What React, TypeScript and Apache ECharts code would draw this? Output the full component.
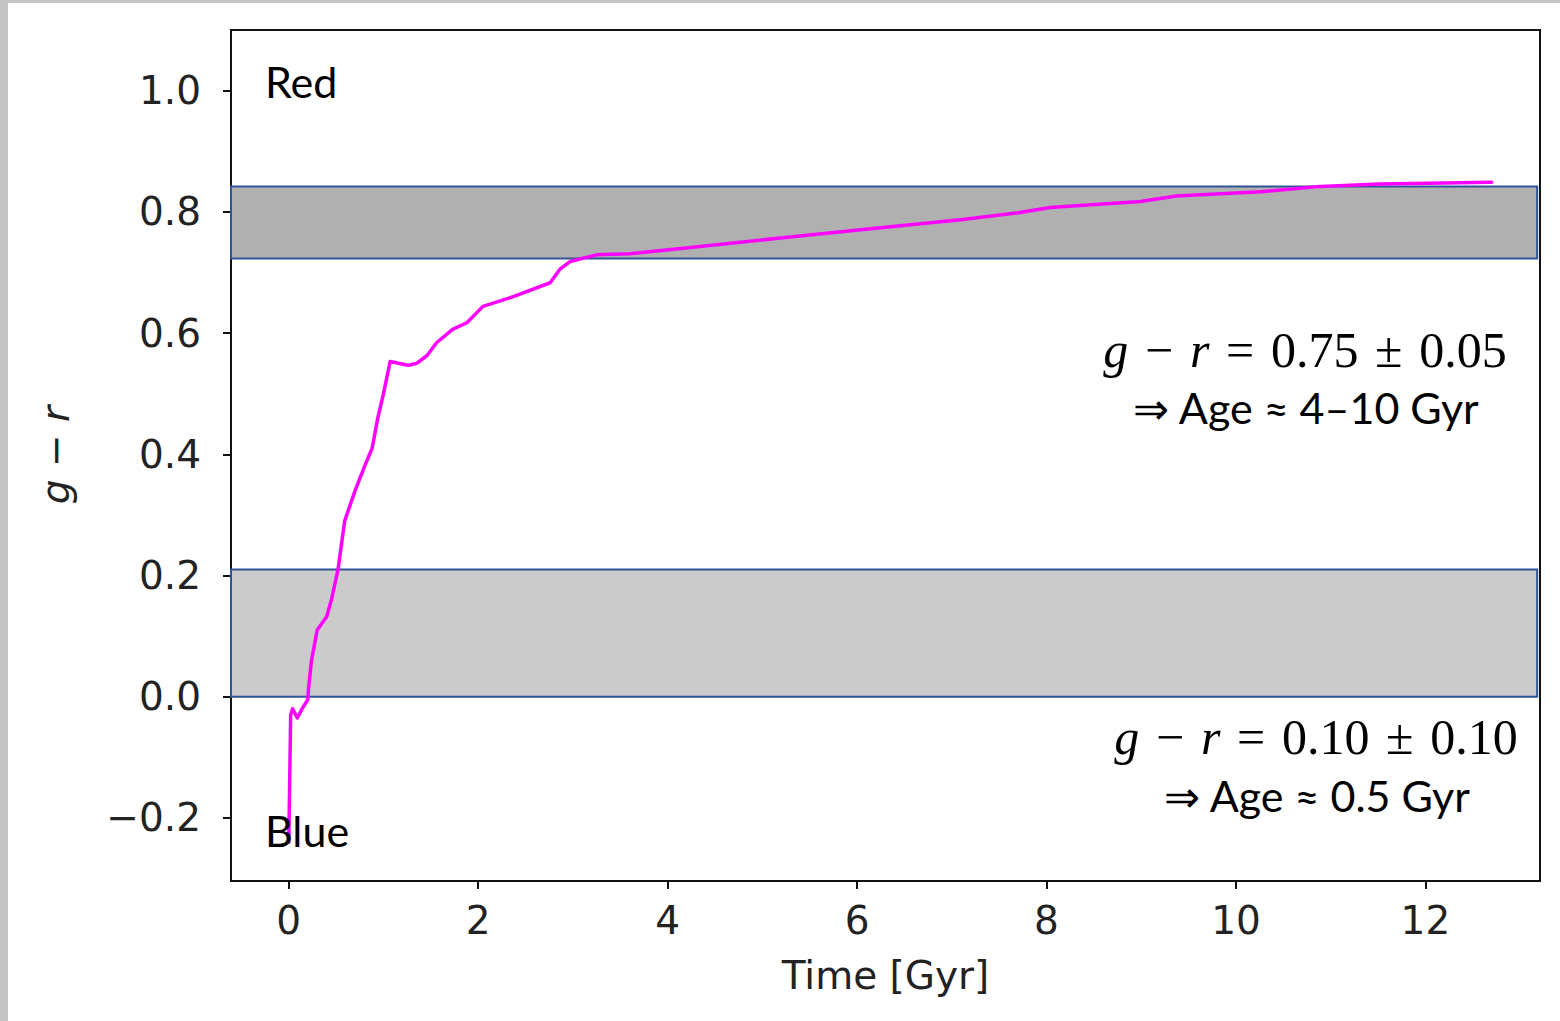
import React, { useEffect, useRef } from "react";
import * as echarts from "echarts";

// ---- data ----
const timeGyr = [0.0, 0.02, 0.04, 0.09, 0.14, 0.2, 0.21, 0.24, 0.3, 0.4, 0.45, 0.52, 0.59, 0.7, 0.8, 0.88, 0.94, 1.0, 1.07, 1.26, 1.35, 1.46, 1.56, 1.73, 1.88, 2.05, 2.37, 2.76, 2.86, 2.97, 3.25, 3.6, 4.24, 5.19, 6.14, 7.09, 7.72, 8.04, 8.99, 9.37, 10.26, 10.89, 11.52, 12.7];
const gMinusR = [-0.24, -0.03, -0.02, -0.035, -0.02, -0.005, 0.016, 0.06, 0.11, 0.132, 0.16, 0.21, 0.29, 0.34, 0.38, 0.41, 0.46, 0.5, 0.553, 0.547, 0.55, 0.563, 0.584, 0.606, 0.617, 0.644, 0.66, 0.683, 0.705, 0.718, 0.729, 0.731, 0.741, 0.757, 0.772, 0.787, 0.799, 0.807, 0.817, 0.826, 0.833, 0.842, 0.846, 0.849];
const xTicks = [0, 2, 4, 6, 8, 10, 12];
const yTicks = [-0.2, 0.0, 0.2, 0.4, 0.6, 0.8, 1.0];
const xRange = [-0.61, 13.21];
const yRange = [-0.304, 1.1];
const redBand = [0.723, 0.842];
const blueBand = [0.0, 0.21];
const bandXEnd = 13.18;
const annotations = [
  { lhs: "0.75 ± 0.05", age: "⇒ Age ≈ 4–10 Gyr" },
  { lhs: "0.10 ± 0.10", age: "⇒ Age ≈ 0.5 Gyr" },
];

const W = 1560;
const H = 1021;

export default function App() {
  const ref = useRef<HTMLDivElement>(null);
  useEffect(() => {
    if (!ref.current) return;
    const chart = echarts.init(ref.current, null, { renderer: "svg", width: W, height: H });
    const tickFont = { fontFamily: "DejaVu Sans", fontSize: 39, color: "#222" };
    const calibri = "Lato, 'Open Sans', sans-serif";
    const mathRich = {
      i: { fontFamily: "Liberation Serif", fontStyle: "italic", fontSize: 50, fill: "#000" },
      m: { fontFamily: "Liberation Serif", fontSize: 50, fill: "#000" },
    };
    const sp = " \u200A";
    const eq = (s: string) => `{i|g}{m|${sp}−${sp}}{i|r}{m|${sp}=${sp}${s.replace(" ± ", `${sp}±${sp}`)}}`;
    chart.setOption({
      animation: false,
      backgroundColor: "#ffffff",
      grid: { left: 231, top: 30, right: 20, bottom: 140, show: true, borderColor: "#111", borderWidth: 2, backgroundColor: "#fff" },
      xAxis: {
        type: "value",
        min: xRange[0],
        max: xRange[1],
        splitLine: { show: false },
        axisLine: { show: true, onZero: false, lineStyle: { color: "#111", width: 2 } },
        axisTick: { show: true, length: 8, customValues: xTicks, lineStyle: { color: "#111", width: 2 } },
        axisLabel: { ...tickFont, margin: 20, customValues: xTicks, formatter: (v: number) => String(v) },
        name: "Time [Gyr]",
        nameLocation: "middle",
        nameGap: 75,
        nameTextStyle: { fontFamily: "DejaVu Sans", fontSize: 39, color: "#222" },
      },
      yAxis: {
        type: "value",
        min: yRange[0],
        max: yRange[1],
        splitLine: { show: false },
        axisLine: { show: true, onZero: false, lineStyle: { color: "#111", width: 2 } },
        axisTick: { show: true, length: 8, customValues: yTicks, lineStyle: { color: "#111", width: 2 } },
        axisLabel: {
          ...tickFont,
          margin: 30,
          customValues: yTicks,
          formatter: (v: number) => v.toFixed(1).replace("-", "−"),
        },
      },
      series: [
        {
          type: "line",
          z: 2,
          data: timeGyr.map((t, i) => [t, gMinusR[i]]),
          showSymbol: false,
          lineStyle: { color: "#ff00ff", width: 3.5, cap: "round", join: "round" },
        },
        {
          type: "line",
          z: 5,
          data: [],
          markArea: {
            silent: true,
            data: [
              [
                { xAxis: xRange[0], yAxis: redBand[0], itemStyle: { color: "rgba(0,0,0,0.31)", borderColor: "#2f5597", borderWidth: 2 } },
                { xAxis: bandXEnd, yAxis: redBand[1] },
              ],
              [
                { xAxis: xRange[0], yAxis: blueBand[0], itemStyle: { color: "rgba(0,0,0,0.205)", borderColor: "#2f5597", borderWidth: 2 } },
                { xAxis: bandXEnd, yAxis: blueBand[1] },
              ],
            ],
          },
        },
      ],
      graphic: [
        { type: "rect", shape: { x: 0, y: 0, width: 8, height: H }, style: { fill: "#c4c4c4" }, z: 10 },
        { type: "rect", shape: { x: 0, y: 0, width: W, height: 3 }, style: { fill: "#c4c4c4" }, z: 10 },
        { type: "text", x: 265, y: 81, style: { text: "Red", font: `43px ${calibri}`, fill: "#000", verticalAlign: "middle" }, z: 10 },
        { type: "text", x: 265, y: 830, style: { text: "Blue", font: `43px ${calibri}`, fill: "#000", verticalAlign: "middle" }, z: 10 },
        {
          type: "text", x: 55, y: 455, rotation: Math.PI / 2,
          style: { text: "g − r", font: `italic 39px 'DejaVu Sans'`, fill: "#222", align: "center", verticalAlign: "middle" }, z: 10,
        },
        { type: "text", x: 1305, y: 350, style: { text: eq(annotations[0].lhs), rich: mathRich, align: "center", verticalAlign: "middle" }, z: 10 },
        { type: "text", x: 1306, y: 407, style: { text: annotations[0].age, font: `43px ${calibri}`, fill: "#000", align: "center", verticalAlign: "middle" }, z: 10 },
        { type: "text", x: 1316, y: 737, style: { text: eq(annotations[1].lhs), rich: mathRich, align: "center", verticalAlign: "middle" }, z: 10 },
        { type: "text", x: 1317, y: 795, style: { text: annotations[1].age, font: `43px ${calibri}`, fill: "#000", align: "center", verticalAlign: "middle" }, z: 10 },
      ],
    });
    return () => chart.dispose();
  }, []);
  return (
    <div style={{ position: "absolute", left: 0, top: 0, width: W, height: H, background: "#fff" }}>
      <div ref={ref} style={{ width: W, height: H }} />
    </div>
  );
}
